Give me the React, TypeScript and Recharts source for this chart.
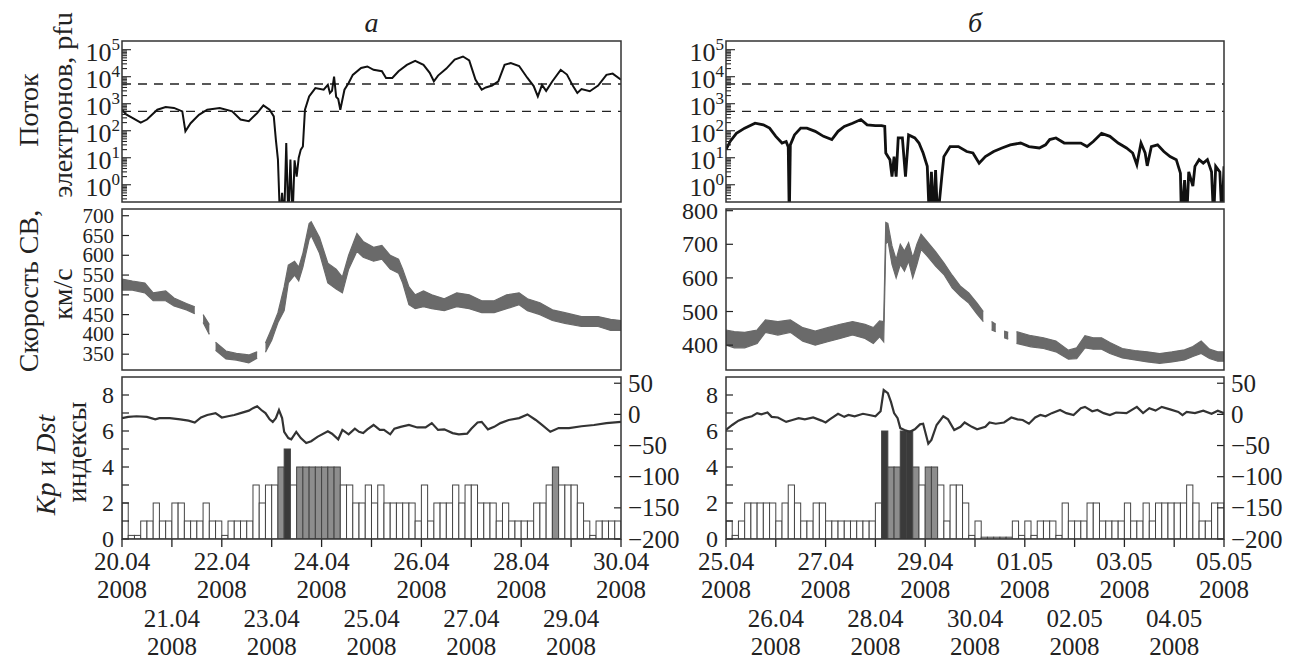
import React from "react";
import { ComposedChart, Line, Area, Bar, Cell, XAxis, YAxis, ReferenceLine } from "recharts";

// time axis: hours from the first day of each 10-day window
const DAYS_A = ["20.04", "21.04", "22.04", "23.04", "24.04", "25.04", "26.04", "27.04", "28.04", "29.04", "30.04"];
const DAYS_B = ["25.04", "26.04", "27.04", "28.04", "29.04", "30.04", "01.05", "02.05", "03.05", "04.05", "05.05"];
const YEAR = "2008";

const FLUX_LEVELS = [5400, 520];
const FLUX_DECADES = [-1, 0, 1, 2, 3, 4, 5];
const SPEED_TICKS_A = [350, 400, 450, 500, 550, 600, 650, 700];
const SPEED_TICKS_B = [400, 500, 600, 700, 800];
const KP_TICKS = [0, 1, 2, 3, 4, 5, 6, 7, 8];
const DST_TICKS = [50, 0, -50, -100, -150, -200];

// electron flux, pfu
const FLUX_A_T = [0, 2, 5, 9, 12, 17, 21, 25, 29, 30.5, 33, 37, 41, 47, 53, 57, 61, 65, 68, 71, 73, 74, 75, 76, 77, 78, 79, 80, 81, 82, 83, 84, 85, 86, 87, 88, 90, 93, 97, 99, 100, 101, 102, 103, 104, 105, 107, 109, 111, 115, 118, 121, 125, 127, 130, 133, 137, 141, 145, 148, 150, 152, 156, 160, 164, 167, 170, 173, 175, 178, 181, 184, 187, 191, 195, 198, 200, 202, 204, 207, 211, 214, 217, 219, 221, 225, 229, 233, 236, 240];
const FLUX_A = [600, 400, 300, 200, 260, 600, 760, 700, 520, 95, 190, 390, 600, 690, 520, 260, 225, 450, 870, 600, 340, 47, 8.5, 0.05, 0.5, 0.05, 35, 0.05, 8.5, 0.05, 8, 2, 10, 20, 26, 600, 1860, 3800, 3300, 5000, 2500, 3000, 10000, 1800, 1500, 600, 3300, 5900, 11700, 21000, 24000, 18000, 16000, 9000, 9000, 16000, 27500, 39000, 27500, 14000, 6800, 11000, 20000, 43000, 56000, 40000, 7800, 3300, 4000, 4700, 6800, 27500, 32000, 25000, 9000, 4500, 1860, 5000, 3000, 6800, 18000, 12000, 4400, 2500, 3500, 2900, 4700, 11700, 13000, 7800];
const FLUX_B_T = [0, 2, 5, 9, 14, 18, 21, 24, 27, 29, 30, 30.5, 31, 33, 36, 39, 43, 47, 51, 54, 57, 61, 65, 68, 72, 75, 76.5, 77, 79, 80, 81, 82, 83, 85, 86.5, 88, 91, 93, 95, 97, 98, 99, 100, 101, 102, 104, 105, 108, 112, 116, 119, 122, 125, 129, 133, 137, 142, 146, 151, 154, 156, 159, 163, 167, 171, 174, 177, 181, 185, 189, 193, 196, 198, 200, 202, 203, 205, 208, 211, 214, 217, 219, 219.5, 221, 222, 223, 225, 226, 228, 230, 232, 234, 235, 236, 238, 239, 240];
const FLUX_B = [20, 40, 80, 125, 190, 165, 125, 62, 35, 40, 25, 0.05, 30, 70, 125, 125, 95, 62, 47, 95, 145, 190, 260, 165, 155, 155, 145, 15, 8.5, 2, 11, 2, 54, 54, 2, 70, 54, 35, 15, 4.8, 0.05, 3, 0.05, 3.5, 0.05, 2, 11, 26, 26, 17, 15, 6.3, 11, 17, 23, 30, 35, 26, 23, 30, 47, 54, 35, 35, 35, 26, 40, 80, 62, 35, 23, 15, 5.5, 35, 15, 5, 26, 30, 17, 11, 8.5, 2.7, 0.05, 1.5, 0.05, 3, 0.9, 4.8, 8.5, 6.3, 8.5, 3, 0.05, 4.8, 3, 0.05, 4.8];

// solar wind speed, km/s: lower and upper edge of the point cloud (null = data gap)
const SPEED_A_T = [0, 5, 11, 15, 21, 25, 31, 35, 37, 39, 42, 43.5, 45, 50, 55, 61, 65, 67, 69, 72, 75, 78, 80, 83, 85, 87, 90, 91, 95, 99, 103, 106, 109, 113, 116, 121, 125, 129, 133, 135, 138, 141, 145, 149, 155, 161, 167, 173, 179, 185, 191, 195, 201, 207, 213, 221, 229, 235, 240];
const SPEED_A_LO = [512, 512, 505, 485, 485, 472, 462, 452, null, 430, 400, null, 360, 338, 335, 328, 340, null, 355, 385, 430, 460, 530, 550, 535, 570, 640, 650, 605, 530, 515, 505, 565, 610, 595, 585, 590, 565, 555, 530, 475, 465, 470, 465, 460, 470, 465, 455, 455, 465, 475, 460, 450, 435, 428, 420, 420, 410, 410];
const SPEED_A_HI = [540, 535, 530, 505, 510, 492, 478, 470, null, 450, 425, null, 380, 358, 352, 348, 356, null, 378, 415, 455, 520, 575, 585, 570, 605, 680, 685, 645, 580, 565, 545, 600, 655, 635, 620, 625, 600, 590, 565, 520, 500, 510, 500, 490, 505, 500, 485, 485, 500, 505, 490, 480, 462, 455, 445, 445, 438, 435];
const SPEED_B_T = [0, 4, 9, 15, 19, 25, 31, 37, 43, 49, 55, 61, 67, 71, 74, 76, 77, 78, 80, 82, 84, 86, 88, 90, 92, 94, 97, 101, 105, 109, 113, 117, 121, 124, 125.5, 128, 130, 131.5, 134, 136, 138, 140, 147, 153, 159, 165, 169, 173, 177, 181, 185, 191, 197, 203, 209, 215, 221, 225, 229, 233, 237, 240];
const SPEED_B_LO = [400, 392, 392, 405, 438, 430, 438, 412, 400, 410, 420, 430, 420, 405, 425, 410, 700, 712, 640, 600, 640, 620, 650, 600, 640, 685, 665, 635, 610, 570, 545, 525, 492, 470, null, 445, 440, null, 422, 418, null, 405, 395, 390, 380, 358, 360, 392, 388, 388, 375, 362, 356, 350, 346, 350, 356, 366, 375, 360, 352, 352];
const SPEED_B_HI = [445, 440, 438, 445, 475, 470, 475, 452, 442, 452, 462, 470, 462, 452, 472, 470, 765, 762, 695, 655, 700, 680, 705, 660, 700, 730, 708, 678, 645, 608, 575, 555, 525, 500, null, 470, 462, null, 442, 438, null, 440, 428, 422, 412, 385, 392, 428, 422, 422, 408, 390, 384, 380, 375, 380, 386, 396, 412, 388, 380, 380];

// 3-hour Kp, 80 intervals per window
const KP_A = [2, 0.2, 0.2, 1, 1, 2, 1, 1, 2, 2, 1, 1, 1, 2, 1, 1, 0.2, 1, 1, 1, 1, 3, 2, 3, 3, 4, 5, 3, 4, 4, 4, 4, 4, 4, 4, 3, 3, 2, 2, 3, 2, 3, 2, 2, 2, 2, 2, 1, 3, 1, 2, 2, 2, 3, 2, 3, 3, 2, 2, 2, 1, 2, 1, 1, 1, 1, 2, 2, 3, 4, 3, 3, 3, 2, 1, 0.2, 1, 1, 1, 1];
const KP_B = [1, 0.2, 1, 2, 2, 2, 2, 2, 1, 2, 3, 2, 1, 1, 2, 2, 1, 1, 1, 1, 1, 1, 1, 1, 2, 6, 4, 4, 6, 6, 4, 3, 4, 4, 3, 1, 3, 3, 2, 0.2, 1, 0.1, 0.1, 0.1, 0.1, 0.1, 1, 0.2, 1, 0.2, 1, 1, 1, 0.2, 2, 1, 1, 1, 2, 2, 1, 1, 1, 1, 2, 1, 1, 2, 1, 2, 2, 2, 2, 2, 3, 2, 1, 1, 2, 2];

// Dst, nT
const DST_A_T = [0, 3, 7, 12, 16, 18, 23, 28, 32, 35, 38, 41, 45, 48, 51, 54, 57, 61, 63, 65, 67, 69, 71, 72.5, 74, 75.5, 77, 78, 80, 81.4, 83.8, 86, 88.6, 91, 94, 99, 101, 104, 106, 109, 112, 114, 116, 118, 121, 124, 126, 129, 131, 134, 138, 142, 146, 149, 152, 155, 159, 162, 166, 168, 171, 173, 176, 179, 182, 186, 191, 195, 199, 202, 206, 210, 215, 221, 227, 233, 240];
const DST_A = [-6, -4, -3, -4, -8, -6, -6, -8, -10, -13, -5, -1, 2, -5, -3, -1, 2, 6, 10, 13, 7, 2, -8, -12, -6, 7, -6, -28, -38, -40, -28, -38, -46, -43, -36, -27, -31, -40, -25, -32, -23, -28, -30, -24, -17, -25, -25, -32, -23, -20, -17, -21, -21, -14, -25, -24, -30, -32, -31, -23, -13, -12, -24, -20, -14, -9, -6, 0, -9, -17, -28, -22, -22, -19, -17, -14, -12];
const DST_B_T = [0, 3, 6, 9, 12.5, 15, 17, 20, 22, 25, 29, 32, 35, 38, 42, 46, 48, 50, 54, 57, 59, 62, 66, 69, 72, 74.5, 76, 78, 79.5, 81, 82.7, 84, 86, 88.6, 91, 93.5, 95, 97.5, 99, 101.5, 104.7, 107, 110, 113, 115, 118.5, 121, 125, 127, 130, 134, 137.5, 140.5, 143, 146, 149, 151.5, 154, 157, 161, 164, 167.5, 171, 173, 176.5, 179, 182, 185, 188, 193, 198, 201, 204, 207, 210, 214, 218, 220, 222, 226, 230, 234, 237, 240];
const DST_B = [-25, -17, -10, -6, -3, 2, 0, 3, -4, -5, -12, -9, -6, -8, -5, -10, -13, -8, 1, -4, -1, -3, 1, -1, -3, 5, 39, 34, 20, 2, -6, -22, -25, -28, -24, -16, -15, -47, -41, -17, -3, -8, -25, -20, -13, -20, -24, -20, -13, -15, -13, -5, -8, -9, -15, -5, -1, -3, 2, 7, 2, -1, 10, 12, 5, 7, 2, -1, 3, 2, 12, 2, 10, 6, 12, 8, 4, -1, 4, 2, 6, 1, 6, 2];

// ---- layout ----
const W = 1289;
const H = 660;
const FONT = "'Liberation Serif', 'DejaVu Serif', 'Noto Serif', 'Times New Roman', Times, serif";
const INK = "#222";
const TOP = [41, 202];
const MID = [209, 370];
const BOT = [377, 539];
const COLS = [
  { left: 0, plotL: 122, plotR: 621, width: 700 },
  { left: 600, plotL: 726, plotR: 1224, width: 689 },
];

const DAY_TICKS = DAYS_A.map((_, i) => i * 24);
const LOG_TICKS = FLUX_DECADES.flatMap((e) => [1, 2, 3, 4, 5, 6, 7, 8, 9].map((k) => k * Math.pow(10, e))).filter((v) => v > 0.23 && v < 2e5);

const series = (t: number[], v: number[]) => t.map((x, i) => ({ t: x, v: v[i] }));
const band = (t: number[], lo: (number | null)[], hi: (number | null)[]) =>
  t.map((x, i) => ({ t: x, range: lo[i] == null ? null : [lo[i], hi[i]] }));
const kpRows = (kp: number[]) => kp.map((k, i) => ({ t: i * 3 + 1.5, kp: k }));
const kpColor = (k: number) => (k >= 5 ? "#3a3a3a" : k >= 4 ? "#8d8d8d" : "#ffffff");

const txt = { fontFamily: FONT, fill: INK };

const innerXTick = (bottom: number) => (p: any) => (
  <line x1={p.x} x2={p.x} y1={bottom} y2={bottom - 8} stroke={INK} strokeWidth={1.3} />
);

const dateTick = (bottom: number, days: string[]) => (p: any) => {
  const i = Math.round(p.payload.value / 24);
  const y0 = i % 2 === 0 ? bottom + 31 : bottom + 88;
  return (
    <g>
      <line x1={p.x} x2={p.x} y1={bottom} y2={bottom + 8} stroke={INK} strokeWidth={1.3} />
      <text x={p.x} y={y0} textAnchor="middle" fontSize={25} style={txt}>{days[i]}</text>
      <text x={p.x} y={y0 + 28} textAnchor="middle" fontSize={25} style={txt}>{YEAR}</text>
    </g>
  );
};

const logTick = (left: number) => (p: any) => {
  const v = p.payload.value;
  const e = Math.log10(v);
  const major = Math.abs(e - Math.round(e)) < 1e-6;
  return (
    <g>
      <line x1={left} x2={left + (major ? 9 : 5)} y1={p.y} y2={p.y} stroke={INK} strokeWidth={1.1} />
      {major && (
        <text x={left - 2} y={p.y + 11} textAnchor="end" fontSize={26} style={txt}>
          10<tspan dy={-11} fontSize={17}>{Math.round(e)}</tspan>
        </text>
      )}
    </g>
  );
};

const leftTick = (left: number, every = 1, size = 24) => (p: any) => {
  const v = p.payload.value;
  return (
    <g>
      <line x1={left} x2={left + 7} y1={p.y} y2={p.y} stroke={INK} strokeWidth={1.2} />
      {v % every === 0 && (
        <text x={left - 8} y={p.y} dominantBaseline="central" textAnchor="end" fontSize={size} style={txt}>{v}</text>
      )}
    </g>
  );
};

const rightTick = (right: number) => (p: any) => {
  const v = p.payload.value;
  return (
    <g>
      <line x1={right} x2={right - 7} y1={p.y} y2={p.y} stroke={INK} strokeWidth={1.2} />
      <text x={right + 7} y={p.y} dominantBaseline="central" textAnchor="start" fontSize={25} style={txt}>
        {v < 0 ? "\u2212" + Math.abs(v) : v}
      </text>
    </g>
  );
};

// bars drawn with the full 3-hour width, centred on the interval
const kpShape = (barW: number) => (p: any) => {
  const cx = p.x + p.width / 2;
  const k = p.payload ? p.payload.kp : 0;
  return <rect x={cx - barW / 2} y={p.y} width={barW} height={p.height} fill={kpColor(k)} stroke="#444" strokeWidth={1} />;
};

function Column({ ci, flux, speed, speedTicks, speedDomain, speedFont, kp, dst, days }: any) {
  const col = COLS[ci];
  const yW = col.plotL - col.left;
  const rs = col.left + col.width - col.plotR;
  const plotRight = col.plotR - col.left;
  const barW = (col.plotR - col.plotL) / kp.length;
  const xAxisCommon = {
    type: "number" as const,
    dataKey: "t",
    domain: [0, 240],
    ticks: DAY_TICKS,
    interval: 0 as const,
    axisLine: false,
    tickLine: false,
    allowDataOverflow: true,
  };
  return (
    <>
      <div style={{ position: "absolute", left: col.left, top: 0 }}>
        <ComposedChart width={col.width} height={TOP[1]} data={flux} margin={{ top: TOP[0], right: rs, bottom: 0, left: 0 }}>
          <XAxis {...xAxisCommon} height={0} tick={innerXTick(TOP[1])} />
          <YAxis type="number" scale="log" domain={[0.23, 2.1e5]} ticks={LOG_TICKS} interval={0} width={yW}
            axisLine={false} tickLine={false} tick={logTick(yW)} allowDataOverflow />
          {FLUX_LEVELS.map((l) => (
            <ReferenceLine key={l} y={l} stroke={INK} strokeWidth={1.4} strokeDasharray="9 7" />
          ))}
          <Line dataKey="v" type="linear" stroke="#111" strokeWidth={ci === 0 ? 2 : 2.8} dot={false} isAnimationActive={false} />
        </ComposedChart>
      </div>
      <div style={{ position: "absolute", left: col.left, top: 0 }}>
        <ComposedChart width={col.width} height={MID[1]} data={speed} margin={{ top: MID[0], right: rs, bottom: 0, left: 0 }}>
          <XAxis {...xAxisCommon} height={0} tick={innerXTick(MID[1])} />
          <YAxis type="number" domain={speedDomain} ticks={speedTicks} interval={0} width={yW}
            axisLine={false} tickLine={false} tick={leftTick(yW, 1, speedFont)} allowDataOverflow />
          <Area dataKey="range" type="linear" stroke="#6a6a6a" strokeWidth={1.2} fill="#6a6a6a" fillOpacity={1}
            dot={false} activeDot={false} isAnimationActive={false} />
        </ComposedChart>
      </div>
      <div style={{ position: "absolute", left: col.left, top: 0 }}>
        <ComposedChart width={col.width} height={H} data={kp} margin={{ top: BOT[0], right: 0, bottom: 0, left: 0 }}
          barGap={0} barCategoryGap={0}>
          <XAxis {...xAxisCommon} height={H - BOT[1]} tick={dateTick(BOT[1], days)} />
          <YAxis yAxisId="kp" type="number" domain={[0, 9]} ticks={KP_TICKS} interval={0} width={yW}
            axisLine={false} tickLine={false} tick={leftTick(yW, 2)} allowDataOverflow />
          <YAxis yAxisId="dst" orientation="right" type="number" domain={[-200, 60]} ticks={DST_TICKS} interval={0} width={rs}
            axisLine={false} tickLine={false} tick={rightTick(plotRight)} allowDataOverflow />
          <Bar yAxisId="kp" dataKey="kp" barSize={barW} shape={kpShape(barW)} isAnimationActive={false}>
            {kp.map((r: any, i: number) => (
              <Cell key={i} fill={kpColor(r.kp)} />
            ))}
          </Bar>
          <Line yAxisId="dst" data={dst} dataKey="v" type="linear" stroke="#333" strokeWidth={2.2} dot={false} isAnimationActive={false} />
        </ComposedChart>
      </div>
    </>
  );
}

const VText = ({ x, y, children, size = 28 }: any) => (
  <text transform={`translate(${x},${y}) rotate(-90)`} textAnchor="middle" dominantBaseline="central"
    fontSize={size} style={txt}>
    {children}
  </text>
);

export default function App() {
  return (
    <div style={{ position: "absolute", left: 0, top: 0, width: W, height: H, background: "#fff", overflow: "hidden", fontFamily: FONT }}>
      <Column ci={0} flux={series(FLUX_A_T, FLUX_A)} speed={band(SPEED_A_T, SPEED_A_LO, SPEED_A_HI)}
        speedTicks={SPEED_TICKS_A} speedDomain={[310, 717]} speedFont={21} kp={kpRows(KP_A)} dst={series(DST_A_T, DST_A)} days={DAYS_A} />
      <Column ci={1} flux={series(FLUX_B_T, FLUX_B)} speed={band(SPEED_B_T, SPEED_B_LO, SPEED_B_HI)}
        speedTicks={SPEED_TICKS_B} speedDomain={[326, 805]} speedFont={24} kp={kpRows(KP_B)} dst={series(DST_B_T, DST_B)} days={DAYS_B} />
      <svg width={W} height={H} style={{ position: "absolute", left: 0, top: 0, pointerEvents: "none" }}>
        {COLS.map((c) =>
          [TOP, MID, BOT].map((p, j) => (
            <rect key={c.left + "-" + j} x={c.plotL} y={p[0]} width={c.plotR - c.plotL} height={p[1] - p[0]}
              fill="none" stroke="#333" strokeWidth={1.5} />
          ))
        )}
        <text x={(COLS[0].plotL + COLS[0].plotR) / 2} y={32} textAnchor="middle" fontSize={28} fontStyle="italic" style={txt}>а</text>
        <text x={(COLS[1].plotL + COLS[1].plotR) / 2} y={32} textAnchor="middle" fontSize={28} fontStyle="italic" style={txt}>б</text>
        <VText x={28} y={110}>Поток</VText>
        <VText x={62} y={105}>электронов, pfu</VText>
        <VText x={28} y={291}>Скорость СВ,</VText>
        <VText x={62} y={294}>км/с</VText>
        <VText x={45} y={465}>
          <tspan fontStyle="italic">Kp</tspan> и <tspan fontStyle="italic">Dst</tspan>
        </VText>
        <VText x={76} y={452}>индексы</VText>
      </svg>
    </div>
  );
}
